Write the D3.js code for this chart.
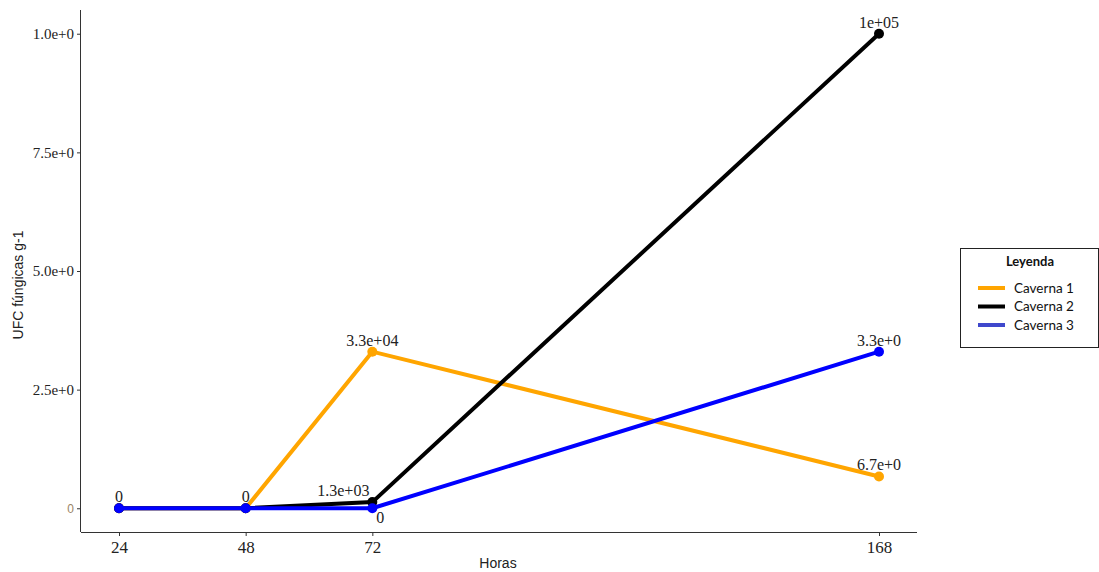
<!DOCTYPE html>
<html>
<head>
<meta charset="utf-8">
<script src="https://cdn.jsdelivr.net/npm/d3@7"></script>
<style>
  body { margin: 0; background: #fff; }
</style>
</head>
<body>
<svg width="1099" height="572"></svg>
<script>
// data
var horas = [24, 48, 72, 168];
var caverna1 = [0, 0, 33000, 6700];
var caverna2 = [0, 0, 1300, 100000];
var caverna3 = [0, 0, 0, 33000];
var labels1 = ["", "0", "3.3e+04", "6.7e+0"];
var labels2 = ["", "", "1.3e+03", "1e+05"];
var labels3 = ["0", "", "0", "3.3e+0"];
var yTicks = [0, 25000, 50000, 75000, 100000];
var yTickLabels = ["0", "2.5e+0", "5.0e+0", "7.5e+0", "1.0e+0"];

var series = [
    {name: "Caverna 1", values: caverna1, labels: labels1, color: "#FFA500", legendColor: "#FFA500"},
    {name: "Caverna 2", values: caverna2, labels: labels2, color: "#000000", legendColor: "#000000"},
    {name: "Caverna 3", values: caverna3, labels: labels3, color: "#0000FF", legendColor: "#3F48CC"}
];

var svg = d3.select("svg");
var serif = "'Liberation Serif', 'Times New Roman', serif";
var sans = "'Liberation Sans', Arial, sans-serif";

var x = d3.scaleLinear().domain([24 - 7.2, 168 + 7.2]).range([81, 917]);
var y = d3.scaleLinear().domain([-5000, 105000]).range([532, 10]);

// axes
var xAxis = d3.axisBottom(x).tickValues(horas).tickSize(4).tickFormat(d3.format("d"));
var gx = svg.append("g").attr("transform", "translate(0,532)").call(xAxis);
gx.select(".domain").attr("d", "M81,0.5H917").attr("stroke", "#333");
gx.selectAll(".tick line").attr("stroke", "#333");
gx.selectAll(".tick text").attr("font-family", serif).attr("font-size", 17).attr("fill", "#222").attr("dy", "0.85em");

var yAxis = d3.axisLeft(y).tickValues(yTicks).tickSize(4).tickFormat(function (d, i) { return yTickLabels[i]; });
var gy = svg.append("g").attr("transform", "translate(81,0)").call(yAxis);
gy.select(".domain").attr("d", "M-0.5,10V532").attr("stroke", "#333");
gy.selectAll(".tick line").attr("stroke", "#333");
gy.selectAll(".tick text").attr("font-family", serif).attr("font-size", 15).attr("fill", "#222");
gy.selectAll(".tick text").filter(function (d) { return d === 0; })
    .attr("font-family", sans).attr("font-size", 12).attr("fill", "#9a8466");

svg.append("text").attr("x", 498).attr("y", 568).attr("text-anchor", "middle")
    .attr("font-family", sans).attr("font-size", 14).attr("fill", "#222").text("Horas");
svg.append("text").attr("transform", "translate(23,285) rotate(-90)").attr("text-anchor", "middle")
    .attr("font-family", sans).attr("font-size", 14).attr("fill", "#222").text("UFC fúngicas g-1");

// lines, points, labels
var line = d3.line().x(function (d, i) { return x(horas[i]); }).y(function (d) { return y(d); });

series.forEach(function (s) {
    svg.append("path").datum(s.values).attr("d", line)
        .attr("fill", "none").attr("stroke", s.color).attr("stroke-width", 4);
    svg.selectAll(null).data(s.values).enter().append("circle")
        .attr("cx", function (d, i) { return x(horas[i]); })
        .attr("cy", function (d) { return y(d); })
        .attr("r", 5).attr("fill", s.color);
});

series.forEach(function (s) {
    svg.selectAll(null).data(s.values).enter().append("text")
        .attr("x", function (d, i) {
            if (s.name === "Caverna 2" && i === 2) return x(horas[i]) - 29;
            if (s.name === "Caverna 3" && i === 2) return x(horas[i]) + 8;
            return x(horas[i]);
        })
        .attr("y", function (d, i) {
            if (s.name === "Caverna 3" && i === 2) return y(d) + 15;
            return y(d) - 6;
        })
        .attr("text-anchor", "middle")
        .attr("font-family", serif).attr("font-size", 16).attr("fill", "#222")
        .text(function (d, i) { return s.labels[i]; });
});

// legend
var lg = svg.append("g").attr("transform", "translate(960,248)");
lg.append("rect").attr("x", 0.5).attr("y", 0.5).attr("width", 138).attr("height", 99)
    .attr("fill", "#fff").attr("stroke", "#222").attr("stroke-width", 1);
lg.append("text").attr("x", 70).attr("y", 18).attr("text-anchor", "middle")
    .attr("font-family", "Lato, sans-serif").attr("font-weight", "bold").attr("font-size", 13)
    .attr("fill", "#111").text("Leyenda");
series.forEach(function (s, i) {
    var yy = 40 + i * 18.5;
    lg.append("line").attr("x1", 18).attr("x2", 45).attr("y1", yy).attr("y2", yy)
        .attr("stroke", s.legendColor).attr("stroke-width", 4);
    lg.append("text").attr("x", 54).attr("y", yy + 4.5)
        .attr("font-family", "Lato, sans-serif").attr("font-size", 13.5).attr("fill", "#111").text(s.name);
});
</script>
</body>
</html>
